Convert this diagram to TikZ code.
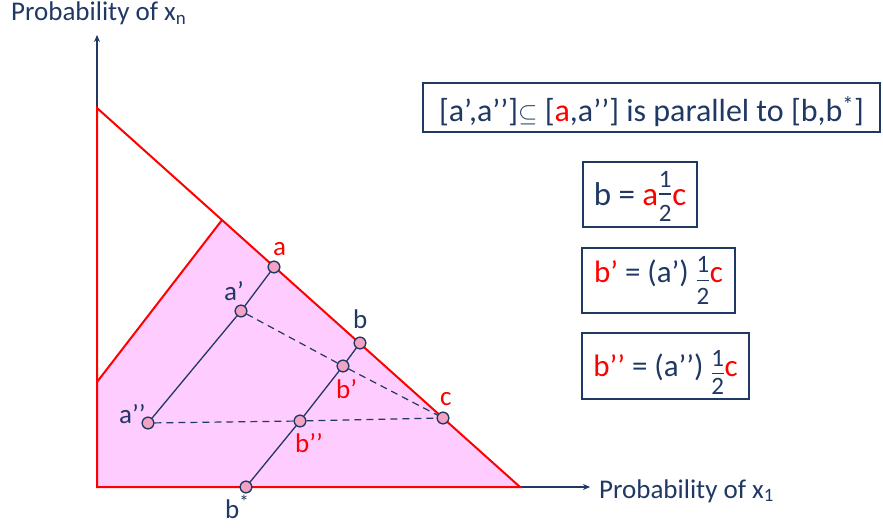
\documentclass[tikz,border=0pt]{standalone}
\usepackage{fontspec}
\setmainfont{Carlito}
\usetikzlibrary{arrows.meta}
\definecolor{navy}{HTML}{203864}
\definecolor{pinkfill}{HTML}{FFCCFF}
\definecolor{ptfill}{HTML}{F2A2C2}
\definecolor{rd}{HTML}{FF0000}
% fraction 1/2: #1 raise of 1, #2 height of bar, #3 drop of 2
\newcommand{\myfrac}[3]{{\fontsize{25}{25}\selectfont\makebox[14pt]{\makebox[0pt]{\raisebox{#1}{1}}\makebox[0pt]{\rule[#2]{12pt}{1.3pt}}\makebox[0pt]{\raisebox{-#3}{2}}}}}
\begin{document}
\begin{tikzpicture}[x=1pt,y=-1pt,
  pt/.style={circle,draw=navy,fill=ptfill,line width=1.2pt,minimum size=11.5pt,inner sep=0pt},
  lbl/.style={font=\fontsize{27}{29}\selectfont,inner sep=0pt,anchor=base west},
  axlbl/.style={font=\fontsize{27}{29}\selectfont,inner sep=0pt,text=navy,anchor=base west},
  seg/.style={draw=navy,line width=1.3pt},
  dsh/.style={draw=navy,line width=1.2pt,dash pattern=on 7pt off 5pt},
  redl/.style={draw=rd,line width=2pt},
  box/.style={draw=navy,line width=2pt,text=navy,inner sep=0pt},
  axis/.style={draw=navy,line width=1.2pt,-{Stealth[length=7pt,width=6pt]}}]
\useasboundingbox (0,0) rectangle (883,529);
% coordinates
\coordinate (O) at (97,487);
\coordinate (T) at (97,108);
\coordinate (R) at (520,487);
\coordinate (L) at (97,382);
\coordinate (H) at (222,220);
\coordinate (Yend) at (97,35);
\coordinate (Xend) at (590,487);
% pink region
\fill[pinkfill] (L) -- (H) -- (R) -- (O) -- cycle;
% axes
\draw[axis] (O) -- (Xend);
\draw[axis] (O) -- (Yend);
% triangle
\draw[redl,line join=miter] (T) -- (O) -- (R) -- cycle;
\draw[redl] (L) -- (H);
% points
\node[pt] (a) at (274,267) {};
\node[pt] (a1) at (241,311) {};
\node[pt] (a2) at (148,423) {};
\node[pt] (b) at (360,343) {};
\node[pt] (b1) at (343,366) {};
\node[pt] (b2) at (300,421) {};
\node[pt] (bs) at (246,487) {};
\node[pt] (c) at (443,418) {};
% segments
\draw[seg] (a) -- (a1) -- (a2);
\draw[seg] (b) -- (b1) -- (b2) -- (bs);
\draw[dsh] (a1) -- (b1) -- (c);
\draw[dsh] (a2) -- (b2) -- (c);
% redraw points on top
\node[pt] at (a) {};
\node[pt] at (a1) {};
\node[pt] at (a2) {};
\node[pt] at (b) {};
\node[pt] at (b1) {};
\node[pt] at (b2) {};
\node[pt] at (bs) {};
\node[pt] at (c) {};
% labels
\node[lbl,text=rd] (la) at (273,256) {a};
\node[lbl,text=navy] (la1) at (224,300) {a’};
\node[lbl,text=navy] (la2) at (119,423) {a’’};
\node[lbl,text=navy] (lb) at (353,328) {b};
\node[lbl,text=rd] (lb1) at (336,398) {b’};
\node[lbl,text=rd] (lb2) at (295,452) {b’’};
\node[lbl,text=rd] (lc) at (440,405) {c};
\node[lbl,text=navy] (lbs) at (225,518) {b\textsuperscript{*}};
% axis labels
\node[axlbl] (ylab) at (11,21) {Probability of x\textsubscript{n}};
\node[axlbl] (xlab) at (599,498) {Probability of x\textsubscript{1}};
% boxes
\node[box,font=\fontsize{32}{34}\selectfont,text height=32pt,text depth=3pt,
  minimum width=457pt,minimum height=49pt] (top) at (651.5,107.5)
  {[a’,a’’]$\subseteq$ [\textcolor{rd}{a},a’’] is parallel to [b,b\textsuperscript{*}]};
\node[box,font=\fontsize{33}{35}\selectfont,text height=35pt,text depth=12.6pt,
  minimum width=114pt,minimum height=65pt] (bx1) at (640,194.5)
  {b = \textcolor{rd}{a}\myfrac{17.7pt}{11pt}{16.3pt}\textcolor{rd}{c}};
\node[box,font=\fontsize{31}{33}\selectfont,text height=30pt,text depth=25pt,
  minimum width=153pt,minimum height=65pt] (bx2) at (658.5,280.5)
  {\textcolor{rd}{b’} = (a’) \myfrac{10.5pt}{1.5pt}{22pt}\textcolor{rd}{c}};
\node[box,font=\fontsize{31}{33}\selectfont,text height=33pt,text depth=11.6pt,
  minimum width=167pt,minimum height=66pt] (bx3) at (665.5,366)
  {\textcolor{rd}{b’’} = (a’’) \myfrac{10pt}{2.5pt}{18pt}\textcolor{rd}{c}};
\end{tikzpicture}
\end{document}
